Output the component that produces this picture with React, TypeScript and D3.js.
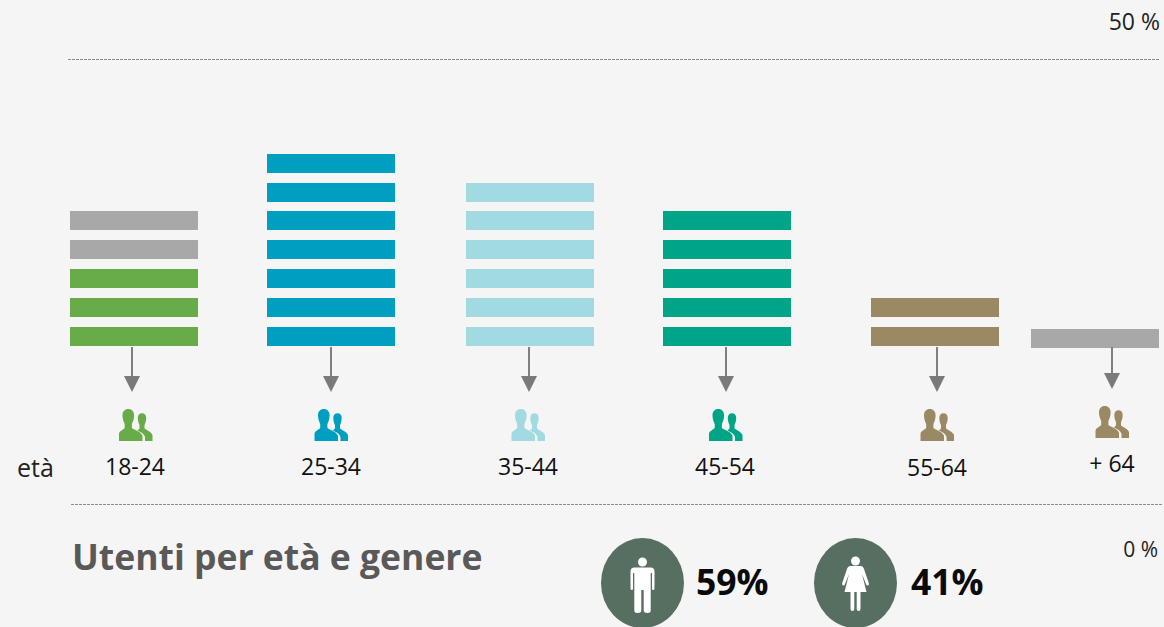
import React from "react";
import * as d3 from "d3";

const W = 1164, H = 627;
const FONT = "'Open Sans', sans-serif";
const ageLabels = ["18-24", "25-34", "35-44", "45-54", "55-64", "+ 64"];
const stripeCounts = [5, 7, 6, 5, 2, 1];
const accentStripes = [2, 0, 0, 0, 0, 0]; // grey stripes on top of the first bar
const colors = ["#67ac48", "#009ec1", "#a2dae2", "#00a486", "#9b8964", "#a8a8a8"];
const iconColors = ["#67ac48", "#009ec1", "#a2dae2", "#00a486", "#9b8964", "#9b8964"];
const accentColor = "#a8a8a8";
const barLeft = [70, 267, 466, 663, 871, 1031];
const barBaseShift = [0, 0, 0, 0, 0, 2];
const arrowX = [132, 331, 529, 726, 937, 1112];
const iconX = [135.5, 331, 528, 725.5, 937, 1112];
const iconShift = [0, 0, 0, 0, 0, -3];
const labelX = [135, 331, 528, 725, 937, 1112];
const labelBase = [475, 475, 475, 475, 476, 472];
const genderValues = ["59%", "41%"];
const genderX = [642.5, 855.5];
const genderTextX = [696, 911];

const stripeH = 19;
// stripe index (from the bottom) to its bottom edge
const stripeY = d3.scaleLinear().domain([0, 6]).range([346, 172.66]);
const pct = d3.scaleLinear().domain([0, 50]).range([504.5, 59.5]);

const people = (() => {
  const p = d3.path();
  // big figure
  p.moveTo(-7.2, 0);
  p.bezierCurveTo(-10.8, 0, -13, 2.6, -13, 6.5);
  p.bezierCurveTo(-13, 10, -11.8, 13, -10.8, 15);
  p.lineTo(-10.8, 19);
  p.bezierCurveTo(-12.5, 21, -16.5, 22, -16.5, 25);
  p.lineTo(-16.5, 32); p.lineTo(7, 32); p.lineTo(7, 27);
  p.bezierCurveTo(6, 23, 0, 21.5, -3.6, 19);
  p.lineTo(-3.6, 15);
  p.bezierCurveTo(-2.6, 13, -1.4, 10, -1.4, 6.5);
  p.bezierCurveTo(-1.4, 2.6, -3.6, 0, -7.2, 0);
  p.closePath();
  // small figure
  p.moveTo(6.5, 4.2);
  p.bezierCurveTo(3.9, 4.2, 2.3, 6.2, 2.3, 9);
  p.bezierCurveTo(2.3, 11.5, 3, 14, 4, 16);
  p.lineTo(4, 19.5);
  p.lineTo(1.8, 21.5);
  p.bezierCurveTo(5, 23, 8.5, 24.5, 9.5, 28);
  p.lineTo(9.5, 32); p.lineTo(17, 32); p.lineTo(17, 26);
  p.bezierCurveTo(16, 23, 11, 21, 9, 19.5);
  p.lineTo(9, 16);
  p.bezierCurveTo(10, 14, 10.7, 11.5, 10.7, 9);
  p.bezierCurveTo(10.7, 6.2, 9.1, 4.2, 6.5, 4.2);
  p.closePath();
  return p.toString();
})();

// gender glyphs, origin at the centre of the head
const manBody = "M-8 5.5 Q-12 5.5 -12 9.5 L-12 26.5 Q-12 28 -10.7 28 Q-9.5 28 -9.5 26.5 L-9.5 11 L-8.2 11 L-8.2 48.5 Q-8.2 51 -5.2 51 Q-1.2 51 -1.2 48.5 L-1.2 28 L1.2 28 L1.2 48.5 Q1.2 51 5.2 51 Q8.2 51 8.2 48.5 L8.2 11 L9.5 11 L9.5 26.5 Q9.5 28 10.7 28 Q12 28 12 26.5 L12 9.5 Q12 5.5 8 5.5 Z";
const womanBody = "M-5 5 Q-7.5 5 -8.5 8 L-13.3 22 Q-13.8 24.5 -12 24.5 Q-11 24.5 -10.5 23 L-6.5 13 L-11 31 L-5 31 L-5 48 Q-5 50 -3.2 50 Q-1.2 50 -1.2 48 L-1.2 31 L1.2 31 L1.2 48 Q1.2 50 3.2 50 Q5 50 5 48 L5 31 L11 31 L6.5 13 L10.5 23 Q11 24.5 12 24.5 Q13.8 24.5 13.3 22 L8.5 8 Q7.5 5 5 5 Z";

function Dash({ x1, x2, y }: { x1: number; x2: number; y: number }) {
  return <line x1={x1} x2={x2} y1={y} y2={y} stroke="#8c8c8c" strokeWidth={1} strokeDasharray="3 1" />;
}

export default function App() {
  return (
    <svg width={W} height={H} style={{ position: "absolute", left: 0, top: 0, background: "#f5f5f5" }} fontFamily={FONT}>
      <Dash x1={68} x2={1160} y={pct(50)} />
      <Dash x1={71} x2={1163} y={pct(0)} />
      <text x={1160} y={30} textAnchor="end" fontSize={23} fill="#222">50 %</text>
      <text x={1158} y={557} textAnchor="end" fontSize={21} fill="#222">0 %</text>
      <text x={17} y={477} fontSize={25} fill="#222">età</text>
      <text x={72} y={570} fontSize={35.5} fontWeight={700} fill="#595959">Utenti per età e genere</text>

      {ageLabels.map((label, i) => (
        <g key={label}>
          {d3.range(stripeCounts[i]).map((k) => (
            <rect
              key={k}
              x={barLeft[i]}
              y={Math.round(stripeY(k) - stripeH + barBaseShift[i])}
              width={128}
              height={stripeH}
              fill={k >= stripeCounts[i] - accentStripes[i] ? accentColor : colors[i]}
            />
          ))}
          <line x1={arrowX[i]} x2={arrowX[i]} y1={347} y2={378 + iconShift[i]} stroke="#7f7f7f" strokeWidth={2} />
          <path d={`M${arrowX[i] - 8} ${376 + iconShift[i]}h16l-8 16z`} fill="#7a7a7a" />
          <path d={people} transform={`translate(${iconX[i]},${409 + iconShift[i]})`} fill={iconColors[i]} />
          <text x={labelX[i]} y={labelBase[i]} textAnchor="middle" fontSize={23} fill="#111">{label}</text>
        </g>
      ))}

      {genderValues.map((v, i) => (
        <g key={v}>
          <ellipse cx={genderX[i]} cy={583} rx={41.5} ry={45} fill="#566f60" />
          <circle cx={genderX[i]} cy={i === 0 ? 562 : 561} r={4.5} fill="#fff" />
          <path d={i === 0 ? manBody : womanBody} transform={`translate(${genderX[i]},${i === 0 ? 562 : 561})`} fill="#fff" />
          <text x={genderTextX[i]} y={595} fontSize={35.5} fontWeight={700} fill="#0a0a0a">{v}</text>
        </g>
      ))}
    </svg>
  );
}
